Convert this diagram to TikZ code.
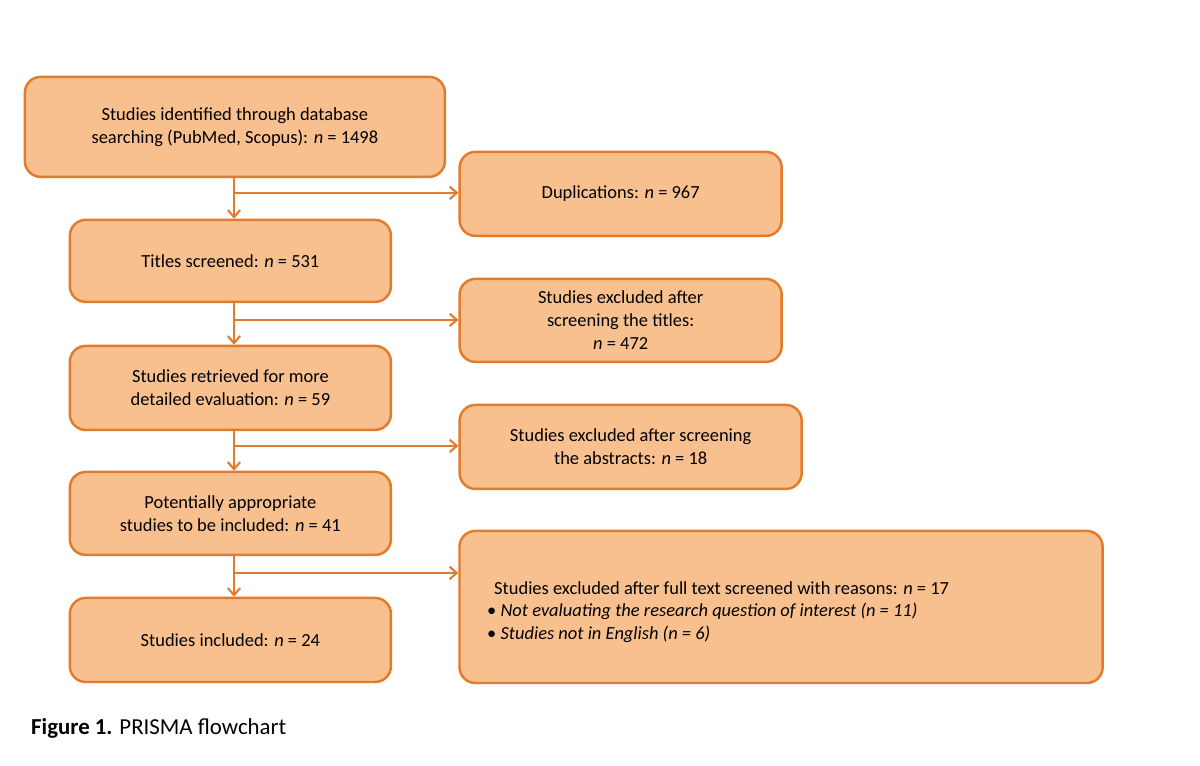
\documentclass[tikz,border=0pt]{standalone}
\usepackage{fontspec}
\setmainfont{Carlito}
\usetikzlibrary{arrows.meta}
\definecolor{boxfill}{HTML}{F9C08F}
\definecolor{boxline}{HTML}{E27B2E}
\tikzset{
  pbox/.style={draw=boxline, line width=1.4pt, fill=boxfill, rounded corners=9pt, align=center, font=\fontsize{10.5}{13}\selectfont, inner sep=0pt},
  conn/.style={draw=boxline, line width=1.2pt},
  arr/.style={conn, -{Straight Barb[length=4pt,width=7pt]}}
}
\newcommand{\pbx}[6]{\node[pbox, minimum width={(#4-#2)*0.02cm}, minimum height={(#5-#3)*0.02cm}] (#1) at ({(#2+#4)*0.01},{(765-(#3+#5)/2)*0.02}) {#6};}
\begin{document}
\begin{tikzpicture}
\useasboundingbox (0,0) rectangle (24,15.3);
\fill[white] (0,0) rectangle (24,15.3);
\pbx{A}{25}{77}{445}{177}{Studies identified through database\\searching (PubMed, Scopus): \textit{n} = 1498}
\pbx{D1}{460}{152}{782}{236}{Duplications: \textit{n} = 967}
\pbx{B}{70}{220}{391}{302}{Titles screened: \textit{n} = 531}
\pbx{D2}{460}{279}{782}{362}{Studies excluded after\\screening the titles:\\\textit{n} = 472}
\pbx{C}{70}{346}{391}{430}{Studies retrieved for more\\detailed evaluation: \textit{n} = 59}
\pbx{D3}{460}{405}{802}{489}{Studies excluded after screening\\the abstracts: \textit{n} = 18}
\pbx{E}{70}{472}{391}{555}{Potentially appropriate\\studies to be included: \textit{n} = 41}
\pbx{D4}{460}{531}{1103}{683}{}
\node[align=left, font=\fontsize{10.5}{13}\selectfont, anchor=north west] (D4t) at (9.62,15.3-11.5) {\hspace*{4pt}Studies excluded after full text screened with reasons: \textit{n} = 17\\
\textbullet\ \textit{Not evaluating the research question of interest (n = 11)}\\
\textbullet\ \textit{Studies not in English (n = 6)}};
\pbx{F}{70}{598}{391}{682}{Studies included: \textit{n} = 24}
\foreach \s/\t/\d/\y in {A/B/D1/193, B/C/D2/320, C/E/D3/446, E/F/D4/573}{
  \draw[arr] (\s.south -| 4.68,0) -- (\t.north -| 4.68,0);
  \coordinate (j\d) at (4.68,{(765-\y)*0.02});
  \draw[arr] (j\d) -- (j\d -| \d.west);
}
\node[anchor=west, font=\fontsize{13}{15}\selectfont] (cap) at (0.5,{(765-728)*0.02}) {\textbf{Figure 1.} PRISMA flowchart};
\end{tikzpicture}
\end{document}
